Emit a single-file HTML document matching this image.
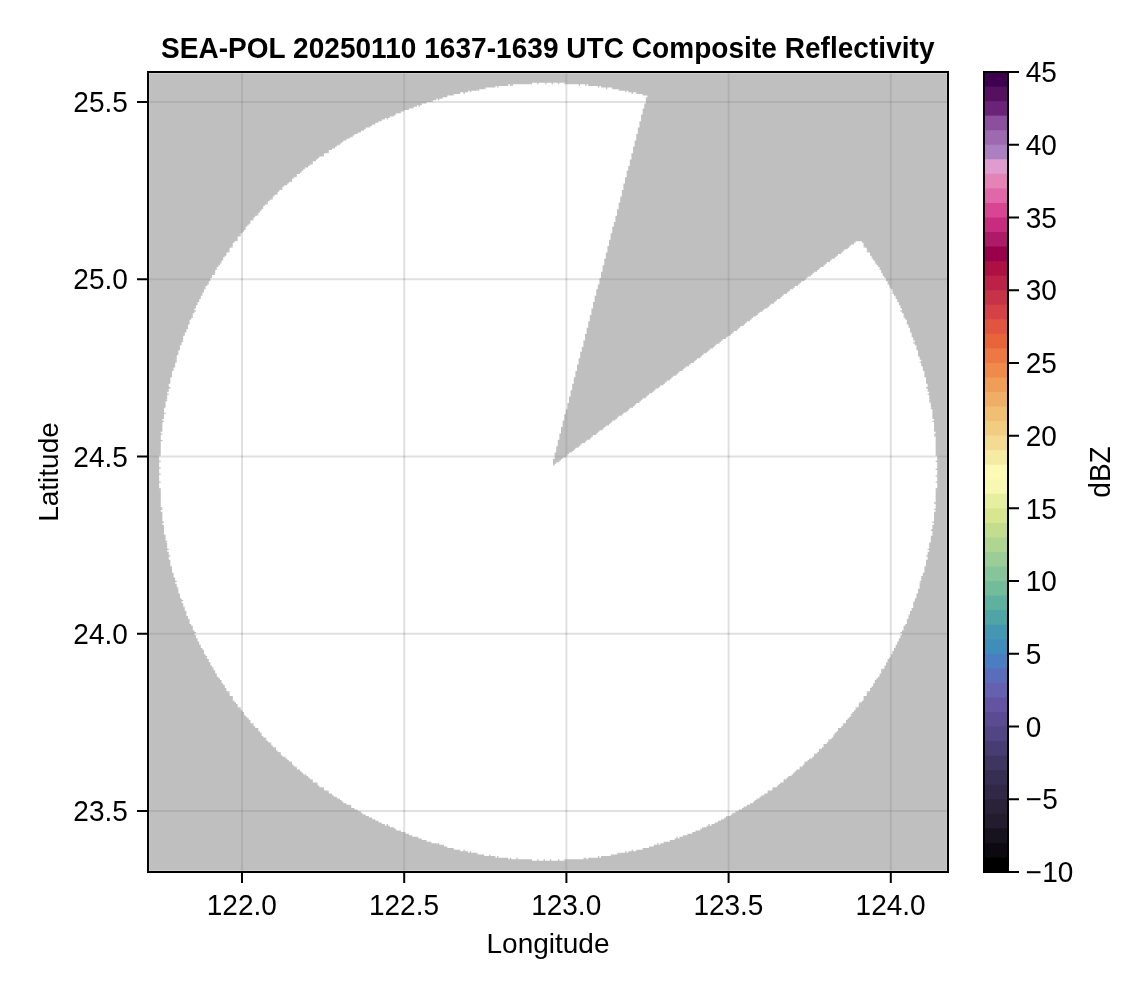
<!DOCTYPE html>
<html lang="en"><head><meta charset="utf-8"><title>SEA-POL Composite Reflectivity</title>
<style>html,body{margin:0;padding:0;background:#fff}body{width:1146px;height:990px;overflow:hidden}svg{display:block}text{font-family:"Liberation Sans",sans-serif;font-size:28px;fill:#000}.b{font-weight:bold;letter-spacing:.05px}</style></head><body>
<svg width="1146" height="990" viewBox="0 0 1146 990">
<rect width="1146" height="990" fill="#fff"/>
<path d="M242 72V872M404.2 72V872M566.4 72V872M728.6 72V872M890.8 72V872" stroke="#000" stroke-opacity="0.12" stroke-width="2" fill="none"/>
<path d="M148 102H948M148 279.25H948M148 456.5H948M148 633.75H948M148 811H948" stroke="#000" stroke-opacity="0.12" stroke-width="2" fill="none"/>
<path fill="#808080" fill-opacity="0.5" fill-rule="evenodd" d="M149.15 73.15H946.85V870.85H149.15ZM530.586 82.761h35.222v1.601h-35.222zM508.172 84.362h80.05v1.601h-80.05zM495.364 85.963h105.666v1.601h-105.666zM484.157 87.564h128.08v1.601h-128.08zM476.152 89.165h144.09v1.601h-144.09zM468.147 90.766h160.1v1.601h-160.1zM460.142 92.367h176.11v1.601h-176.11zM453.738 93.968h188.918v1.601h-188.918zM447.334 95.569h200.125v1.601h-200.125zM442.531 97.17h203.327v1.601h-203.327zM436.127 98.771h209.731v1.601h-209.731zM431.324 100.372h214.534v1.601h-214.534zM426.521 101.973h219.337v1.601h-219.337zM421.718 103.574h222.539v1.601h-222.539zM416.915 105.175h227.342v1.601h-227.342zM412.112 106.776h232.145v1.601h-232.145zM408.91 108.377h233.746v1.601h-233.746zM404.107 109.978h238.549v1.601h-238.549zM400.905 111.579h241.751v1.601h-241.751zM396.102 113.18h246.554v1.601h-246.554zM392.9 114.781h248.155v1.601h-248.155zM389.698 116.382h251.357v1.601h-251.357zM384.895 117.983h256.16v1.601h-256.16zM381.693 119.584h259.362v1.601h-259.362zM378.491 121.185h260.963v1.601h-260.963zM375.289 122.786h264.165v1.601h-264.165zM372.087 124.387h267.367v1.601h-267.367zM368.885 125.988h270.569v1.601h-270.569zM365.683 127.589h272.17v1.601h-272.17zM362.481 129.19h275.372v1.601h-275.372zM360.88 130.791h276.973v1.601h-276.973zM357.678 132.392h280.175v1.601h-280.175zM354.476 133.993h281.776v1.601h-281.776zM351.274 135.594h284.978v1.601h-284.978zM349.673 137.195h286.579v1.601h-286.579zM346.471 138.796h289.781v1.601h-289.781zM343.269 140.397h291.382v1.601h-291.382zM341.668 141.998h292.983v1.601h-292.983zM338.466 143.599h296.185v1.601h-296.185zM336.865 145.2h297.786v1.601h-297.786zM333.663 146.801h299.387v1.601h-299.387zM332.062 148.402h300.988v1.601h-300.988zM328.86 150.003h304.19v1.601h-304.19zM327.259 151.604h305.791v1.601h-305.791zM324.057 153.205h307.392v1.601h-307.392zM322.456 154.806h308.993v1.601h-308.993zM319.254 156.407h312.195v1.601h-312.195zM317.653 158.008h313.796v1.601h-313.796zM316.052 159.609h313.796v1.601h-313.796zM312.85 161.21h316.998v1.601h-316.998zM311.249 162.811h318.599v1.601h-318.599zM309.648 164.412h320.2v1.601h-320.2zM308.047 166.013h320.2v1.601h-320.2zM304.845 167.614h323.402v1.601h-323.402zM303.244 169.215h325.003v1.601h-325.003zM301.643 170.816h325.003v1.601h-325.003zM300.042 172.417h326.604v1.601h-326.604zM296.84 174.018h329.806v1.601h-329.806zM295.239 175.619h331.407v1.601h-331.407zM293.638 177.22h331.407v1.601h-331.407zM292.037 178.821h333.008v1.601h-333.008zM290.436 180.422h334.609v1.601h-334.609zM288.835 182.023h336.21v1.601h-336.21zM287.234 183.624h336.21v1.601h-336.21zM284.032 185.225h339.412v1.601h-339.412zM282.431 186.826h341.013v1.601h-341.013zM280.83 188.427h342.614v1.601h-342.614zM279.229 190.028h342.614v1.601h-342.614zM277.628 191.629h344.215v1.601h-344.215zM276.027 193.23h345.816v1.601h-345.816zM274.426 194.831h347.417v1.601h-347.417zM272.825 196.432h347.417v1.601h-347.417zM271.224 198.033h349.018v1.601h-349.018zM269.623 199.634h350.619v1.601h-350.619zM268.022 201.235h352.22v1.601h-352.22zM266.421 202.836h352.22v1.601h-352.22zM264.82 204.437h353.821v1.601h-353.821zM263.219 206.038h355.422v1.601h-355.422zM261.618 207.639h357.023v1.601h-357.023zM261.618 209.24h355.422v1.601h-355.422zM260.017 210.841h357.023v1.601h-357.023zM258.416 212.442h358.624v1.601h-358.624zM256.815 214.043h360.225v1.601h-360.225zM255.214 215.644h360.225v1.601h-360.225zM253.613 217.245h361.826v1.601h-361.826zM252.012 218.846h363.427v1.601h-363.427zM250.411 220.447h365.028v1.601h-365.028zM250.411 222.048h363.427v1.601h-363.427zM248.81 223.649h365.028v1.601h-365.028zM247.209 225.25h366.629v1.601h-366.629zM245.608 226.851h366.629v1.601h-366.629zM244.007 228.452h368.23v1.601h-368.23zM244.007 230.053h368.23v1.601h-368.23zM242.406 231.654h369.831v1.601h-369.831zM240.805 233.255h369.831v1.601h-369.831zM239.204 234.856h371.432v1.601h-371.432zM237.603 236.457h373.033v1.601h-373.033zM237.603 238.058h373.033v1.601h-373.033zM236.002 239.659h373.033v1.601h-373.033zM234.401 241.26h374.634v1.601h-374.634zM855.589 241.26h6.404v1.601h-6.404zM232.8 242.861h376.235v1.601h-376.235zM853.988 242.861h9.606v1.601h-9.606zM232.8 244.462h376.235v1.601h-376.235zM850.786 244.462h12.808v1.601h-12.808zM231.199 246.063h376.235v1.601h-376.235zM849.185 246.063h16.01v1.601h-16.01zM229.598 247.664h377.836v1.601h-377.836zM847.584 247.664h19.212v1.601h-19.212zM229.598 249.265h377.836v1.601h-377.836zM844.382 249.265h22.414v1.601h-22.414zM227.997 250.866h379.437v1.601h-379.437zM842.781 250.866h25.616v1.601h-25.616zM226.396 252.467h379.437v1.601h-379.437zM841.18 252.467h28.818v1.601h-28.818zM226.396 254.068h379.437v1.601h-379.437zM837.978 254.068h32.02v1.601h-32.02zM224.795 255.669h381.038v1.601h-381.038zM836.377 255.669h35.222v1.601h-35.222zM223.194 257.27h382.639v1.601h-382.639zM834.776 257.27h38.424v1.601h-38.424zM223.194 258.871h381.038v1.601h-381.038zM831.574 258.871h41.626v1.601h-41.626zM221.593 260.472h382.639v1.601h-382.639zM829.973 260.472h44.828v1.601h-44.828zM219.992 262.073h384.24v1.601h-384.24zM826.771 262.073h49.631v1.601h-49.631zM219.992 263.674h384.24v1.601h-384.24zM825.17 263.674h51.232v1.601h-51.232zM218.391 265.275h384.24v1.601h-384.24zM823.569 265.275h54.434v1.601h-54.434zM216.79 266.876h385.841v1.601h-385.841zM820.367 266.876h59.237v1.601h-59.237zM216.79 268.477h385.841v1.601h-385.841zM818.766 268.477h60.838v1.601h-60.838zM215.189 270.078h387.442v1.601h-387.442zM817.165 270.078h64.04v1.601h-64.04zM215.189 271.679h385.841v1.601h-385.841zM813.963 271.679h67.242v1.601h-67.242zM213.588 273.28h387.442v1.601h-387.442zM812.362 273.28h70.444v1.601h-70.444zM211.987 274.881h389.043v1.601h-389.043zM810.761 274.881h73.646v1.601h-73.646zM211.987 276.482h389.043v1.601h-389.043zM807.559 276.482h76.848v1.601h-76.848zM210.386 278.083h389.043v1.601h-389.043zM805.958 278.083h80.05v1.601h-80.05zM210.386 279.684h389.043v1.601h-389.043zM804.357 279.684h81.651v1.601h-81.651zM208.785 281.285h390.644v1.601h-390.644zM801.155 281.285h86.454v1.601h-86.454zM208.785 282.886h390.644v1.601h-390.644zM799.554 282.886h88.055v1.601h-88.055zM207.184 284.487h390.644v1.601h-390.644zM797.953 284.487h91.257v1.601h-91.257zM205.583 286.088h392.245v1.601h-392.245zM794.751 286.088h96.06v1.601h-96.06zM205.583 287.689h392.245v1.601h-392.245zM793.15 287.689h97.661v1.601h-97.661zM203.982 289.29h392.245v1.601h-392.245zM789.948 289.29h102.464v1.601h-102.464zM203.982 290.891h392.245v1.601h-392.245zM788.347 290.891h104.065v1.601h-104.065zM202.381 292.492h393.846v1.601h-393.846zM786.746 292.492h107.267v1.601h-107.267zM202.381 294.093h393.846v1.601h-393.846zM783.544 294.093h110.469v1.601h-110.469zM200.78 295.694h393.846v1.601h-393.846zM781.943 295.694h113.671v1.601h-113.671zM200.78 297.295h393.846v1.601h-393.846zM780.342 297.295h115.272v1.601h-115.272zM199.179 298.896h395.447v1.601h-395.447zM777.14 298.896h120.075v1.601h-120.075zM199.179 300.497h395.447v1.601h-395.447zM775.539 300.497h121.676v1.601h-121.676zM197.578 302.098h395.447v1.601h-395.447zM773.938 302.098h124.878v1.601h-124.878zM197.578 303.699h395.447v1.601h-395.447zM770.736 303.699h128.08v1.601h-128.08zM195.977 305.3h397.048v1.601h-397.048zM769.135 305.3h131.282v1.601h-131.282zM195.977 306.901h397.048v1.601h-397.048zM767.534 306.901h132.883v1.601h-132.883zM194.376 308.502h397.048v1.601h-397.048zM764.332 308.502h137.686v1.601h-137.686zM194.376 310.103h397.048v1.601h-397.048zM762.731 310.103h139.287v1.601h-139.287zM194.376 311.704h397.048v1.601h-397.048zM759.529 311.704h142.489v1.601h-142.489zM192.775 313.305h398.649v1.601h-398.649zM757.928 313.305h145.691v1.601h-145.691zM192.775 314.906h397.048v1.601h-397.048zM756.327 314.906h147.292v1.601h-147.292zM191.174 316.507h398.649v1.601h-398.649zM753.125 316.507h152.095v1.601h-152.095zM191.174 318.108h398.649v1.601h-398.649zM751.524 318.108h153.696v1.601h-153.696zM189.573 319.709h400.25v1.601h-400.25zM749.923 319.709h156.898v1.601h-156.898zM189.573 321.31h398.649v1.601h-398.649zM746.721 321.31h160.1v1.601h-160.1zM189.573 322.911h398.649v1.601h-398.649zM745.12 322.911h161.701v1.601h-161.701zM187.972 324.512h400.25v1.601h-400.25zM743.519 324.512h164.903v1.601h-164.903zM187.972 326.113h400.25v1.601h-400.25zM740.317 326.113h168.105v1.601h-168.105zM186.371 327.714h400.25v1.601h-400.25zM738.716 327.714h171.307v1.601h-171.307zM186.371 329.315h400.25v1.601h-400.25zM737.115 329.315h172.908v1.601h-172.908zM186.371 330.916h400.25v1.601h-400.25zM733.913 330.916h176.11v1.601h-176.11zM184.77 332.517h401.851v1.601h-401.851zM732.312 332.517h179.312v1.601h-179.312zM184.77 334.118h400.25v1.601h-400.25zM730.711 334.118h180.913v1.601h-180.913zM183.169 335.719h401.851v1.601h-401.851zM727.509 335.719h185.716v1.601h-185.716zM183.169 337.32h401.851v1.601h-401.851zM725.908 337.32h187.317v1.601h-187.317zM183.169 338.921h401.851v1.601h-401.851zM722.706 338.921h190.519v1.601h-190.519zM181.568 340.522h401.851v1.601h-401.851zM721.105 340.522h193.721v1.601h-193.721zM181.568 342.123h401.851v1.601h-401.851zM719.504 342.123h195.322v1.601h-195.322zM181.568 343.724h401.851v1.601h-401.851zM716.302 343.724h198.524v1.601h-198.524zM179.967 345.325h403.452v1.601h-403.452zM714.701 345.325h201.726v1.601h-201.726zM179.967 346.926h401.851v1.601h-401.851zM713.1 346.926h203.327v1.601h-203.327zM179.967 348.527h401.851v1.601h-401.851zM709.898 348.527h206.529v1.601h-206.529zM178.366 350.128h403.452v1.601h-403.452zM708.297 350.128h209.731v1.601h-209.731zM178.366 351.729h401.851v1.601h-401.851zM706.696 351.729h211.332v1.601h-211.332zM178.366 353.33h401.851v1.601h-401.851zM703.494 353.33h214.534v1.601h-214.534zM176.765 354.931h403.452v1.601h-403.452zM701.893 354.931h217.736v1.601h-217.736zM176.765 356.532h403.452v1.601h-403.452zM700.292 356.532h219.337v1.601h-219.337zM176.765 358.133h401.851v1.601h-401.851zM697.09 358.133h222.539v1.601h-222.539zM175.164 359.734h403.452v1.601h-403.452zM695.489 359.734h225.741v1.601h-225.741zM175.164 361.335h403.452v1.601h-403.452zM693.888 361.335h227.342v1.601h-227.342zM175.164 362.936h403.452v1.601h-403.452zM690.686 362.936h230.544v1.601h-230.544zM175.164 364.537h401.851v1.601h-401.851zM689.085 364.537h232.145v1.601h-232.145zM173.563 366.138h403.452v1.601h-403.452zM685.883 366.138h236.948v1.601h-236.948zM173.563 367.739h403.452v1.601h-403.452zM684.282 367.739h238.549v1.601h-238.549zM173.563 369.34h403.452v1.601h-403.452zM682.681 369.34h240.15v1.601h-240.15zM171.962 370.941h403.452v1.601h-403.452zM679.479 370.941h244.953v1.601h-244.953zM171.962 372.542h403.452v1.601h-403.452zM677.878 372.542h246.554v1.601h-246.554zM171.962 374.143h403.452v1.601h-403.452zM676.277 374.143h248.155v1.601h-248.155zM171.962 375.744h403.452v1.601h-403.452zM673.075 375.744h251.357v1.601h-251.357zM170.361 377.345h403.452v1.601h-403.452zM671.474 377.345h254.559v1.601h-254.559zM170.361 378.946h403.452v1.601h-403.452zM669.873 378.946h256.16v1.601h-256.16zM170.361 380.547h403.452v1.601h-403.452zM666.671 380.547h259.362v1.601h-259.362zM170.361 382.148h403.452v1.601h-403.452zM665.07 382.148h260.963v1.601h-260.963zM168.76 383.749h403.452v1.601h-403.452zM663.469 383.749h264.165v1.601h-264.165zM168.76 385.35h403.452v1.601h-403.452zM660.267 385.35h267.367v1.601h-267.367zM168.76 386.951h403.452v1.601h-403.452zM658.666 386.951h268.968v1.601h-268.968zM168.76 388.552h403.452v1.601h-403.452zM655.464 388.552h272.17v1.601h-272.17zM168.76 390.153h401.851v1.601h-401.851zM653.863 390.153h273.771v1.601h-273.771zM167.159 391.754h403.452v1.601h-403.452zM652.262 391.754h276.973v1.601h-276.973zM167.159 393.355h403.452v1.601h-403.452zM649.06 393.355h280.175v1.601h-280.175zM167.159 394.956h403.452v1.601h-403.452zM647.459 394.956h281.776v1.601h-281.776zM167.159 396.557h401.851v1.601h-401.851zM645.858 396.557h283.377v1.601h-283.377zM167.159 398.158h401.851v1.601h-401.851zM642.656 398.158h286.579v1.601h-286.579zM165.558 399.759h403.452v1.601h-403.452zM641.055 399.759h289.781v1.601h-289.781zM165.558 401.36h403.452v1.601h-403.452zM639.454 401.36h291.382v1.601h-291.382zM165.558 402.961h401.851v1.601h-401.851zM636.252 402.961h294.584v1.601h-294.584zM165.558 404.562h401.851v1.601h-401.851zM634.651 404.562h296.185v1.601h-296.185zM165.558 406.163h401.851v1.601h-401.851zM633.05 406.163h297.786v1.601h-297.786zM163.957 407.764h403.452v1.601h-403.452zM629.848 407.764h302.589v1.601h-302.589zM163.957 409.365h401.851v1.601h-401.851zM628.247 409.365h304.19v1.601h-304.19zM163.957 410.966h401.851v1.601h-401.851zM626.646 410.966h305.791v1.601h-305.791zM163.957 412.567h401.851v1.601h-401.851zM623.444 412.567h308.993v1.601h-308.993zM163.957 414.168h400.25v1.601h-400.25zM621.843 414.168h310.594v1.601h-310.594zM163.957 415.769h400.25v1.601h-400.25zM618.641 415.769h313.796v1.601h-313.796zM163.957 417.37h400.25v1.601h-400.25zM617.04 417.37h315.397v1.601h-315.397zM162.356 418.971h401.851v1.601h-401.851zM615.439 418.971h318.599v1.601h-318.599zM162.356 420.572h400.25v1.601h-400.25zM612.237 420.572h321.801v1.601h-321.801zM162.356 422.173h400.25v1.601h-400.25zM610.636 422.173h323.402v1.601h-323.402zM162.356 423.774h400.25v1.601h-400.25zM609.035 423.774h325.003v1.601h-325.003zM162.356 425.375h400.25v1.601h-400.25zM605.833 425.375h328.205v1.601h-328.205zM162.356 426.976h398.649v1.601h-398.649zM604.232 426.976h329.806v1.601h-329.806zM162.356 428.577h398.649v1.601h-398.649zM602.631 428.577h331.407v1.601h-331.407zM162.356 430.178h398.649v1.601h-398.649zM599.429 430.178h334.609v1.601h-334.609zM160.755 431.779h400.25v1.601h-400.25zM597.828 431.779h337.811v1.601h-337.811zM160.755 433.38h398.649v1.601h-398.649zM596.227 433.38h339.412v1.601h-339.412zM160.755 434.981h398.649v1.601h-398.649zM593.025 434.981h342.614v1.601h-342.614zM160.755 436.582h398.649v1.601h-398.649zM591.424 436.582h344.215v1.601h-344.215zM160.755 438.183h398.649v1.601h-398.649zM589.823 438.183h345.816v1.601h-345.816zM160.755 439.784h397.048v1.601h-397.048zM586.621 439.784h349.018v1.601h-349.018zM160.755 441.385h397.048v1.601h-397.048zM585.02 441.385h350.619v1.601h-350.619zM160.755 442.986h397.048v1.601h-397.048zM581.818 442.986h353.821v1.601h-353.821zM160.755 444.587h397.048v1.601h-397.048zM580.217 444.587h355.422v1.601h-355.422zM160.755 446.188h395.447v1.601h-395.447zM578.616 446.188h357.023v1.601h-357.023zM160.755 447.789h395.447v1.601h-395.447zM575.414 447.789h360.225v1.601h-360.225zM160.755 449.39h395.447v1.601h-395.447zM573.813 449.39h361.826v1.601h-361.826zM160.755 450.991h395.447v1.601h-395.447zM572.212 450.991h363.427v1.601h-363.427zM160.755 452.592h393.846v1.601h-393.846zM569.01 452.592h366.629v1.601h-366.629zM159.154 454.193h395.447v1.601h-395.447zM567.409 454.193h369.831v1.601h-369.831zM159.154 455.794h395.447v1.601h-395.447zM565.808 455.794h371.432v1.601h-371.432zM159.154 457.395h395.447v1.601h-395.447zM562.606 457.395h374.634v1.601h-374.634zM159.154 458.996h393.846v1.601h-393.846zM561.005 458.996h376.235v1.601h-376.235zM159.154 460.597h393.846v1.601h-393.846zM559.404 460.597h377.836v1.601h-377.836zM159.154 462.198h393.846v1.601h-393.846zM556.202 462.198h381.038v1.601h-381.038zM159.154 463.799h393.846v1.601h-393.846zM554.601 463.799h382.639v1.601h-382.639zM159.154 465.4h778.086v1.601h-778.086zM159.154 467.001h778.086v1.601h-778.086zM159.154 468.602h778.086v1.601h-778.086zM159.154 470.203h778.086v1.601h-778.086zM159.154 471.804h778.086v1.601h-778.086zM159.154 473.405h778.086v1.601h-778.086zM159.154 475.006h778.086v1.601h-778.086zM159.154 476.607h778.086v1.601h-778.086zM159.154 478.208h778.086v1.601h-778.086zM159.154 479.809h778.086v1.601h-778.086zM159.154 481.41h778.086v1.601h-778.086zM159.154 483.011h778.086v1.601h-778.086zM159.154 484.612h778.086v1.601h-778.086zM159.154 486.213h778.086v1.601h-778.086zM159.154 487.814h778.086v1.601h-778.086zM160.755 489.415h774.884v1.601h-774.884zM160.755 491.016h774.884v1.601h-774.884zM160.755 492.617h774.884v1.601h-774.884zM160.755 494.218h774.884v1.601h-774.884zM160.755 495.819h774.884v1.601h-774.884zM160.755 497.42h774.884v1.601h-774.884zM160.755 499.021h774.884v1.601h-774.884zM160.755 500.622h774.884v1.601h-774.884zM160.755 502.223h774.884v1.601h-774.884zM160.755 503.824h774.884v1.601h-774.884zM160.755 505.425h774.884v1.601h-774.884zM160.755 507.026h774.884v1.601h-774.884zM160.755 508.627h774.884v1.601h-774.884zM160.755 510.228h774.884v1.601h-774.884zM162.356 511.829h771.682v1.601h-771.682zM162.356 513.43h771.682v1.601h-771.682zM162.356 515.031h771.682v1.601h-771.682zM162.356 516.632h771.682v1.601h-771.682zM162.356 518.233h771.682v1.601h-771.682zM162.356 519.834h771.682v1.601h-771.682zM162.356 521.435h771.682v1.601h-771.682zM162.356 523.036h771.682v1.601h-771.682zM163.957 524.637h768.48v1.601h-768.48zM163.957 526.238h768.48v1.601h-768.48zM163.957 527.839h768.48v1.601h-768.48zM163.957 529.44h768.48v1.601h-768.48zM163.957 531.041h768.48v1.601h-768.48zM163.957 532.642h768.48v1.601h-768.48zM163.957 534.243h768.48v1.601h-768.48zM165.558 535.844h765.278v1.601h-765.278zM165.558 537.445h765.278v1.601h-765.278zM165.558 539.046h765.278v1.601h-765.278zM165.558 540.647h765.278v1.601h-765.278zM165.558 542.248h765.278v1.601h-765.278zM167.159 543.849h762.076v1.601h-762.076zM167.159 545.45h762.076v1.601h-762.076zM167.159 547.051h762.076v1.601h-762.076zM167.159 548.652h762.076v1.601h-762.076zM167.159 550.253h762.076v1.601h-762.076zM168.76 551.854h758.874v1.601h-758.874zM168.76 553.455h758.874v1.601h-758.874zM168.76 555.056h758.874v1.601h-758.874zM168.76 556.657h758.874v1.601h-758.874zM168.76 558.258h758.874v1.601h-758.874zM170.361 559.859h755.672v1.601h-755.672zM170.361 561.46h755.672v1.601h-755.672zM170.361 563.061h755.672v1.601h-755.672zM170.361 564.662h755.672v1.601h-755.672zM171.962 566.263h752.47v1.601h-752.47zM171.962 567.864h752.47v1.601h-752.47zM171.962 569.465h752.47v1.601h-752.47zM171.962 571.066h752.47v1.601h-752.47zM173.563 572.667h749.268v1.601h-749.268zM173.563 574.268h749.268v1.601h-749.268zM173.563 575.869h749.268v1.601h-749.268zM175.164 577.47h746.066v1.601h-746.066zM175.164 579.071h746.066v1.601h-746.066zM175.164 580.672h746.066v1.601h-746.066zM175.164 582.273h746.066v1.601h-746.066zM176.765 583.874h742.864v1.601h-742.864zM176.765 585.475h742.864v1.601h-742.864zM176.765 587.076h742.864v1.601h-742.864zM178.366 588.677h739.662v1.601h-739.662zM178.366 590.278h739.662v1.601h-739.662zM178.366 591.879h739.662v1.601h-739.662zM179.967 593.48h736.46v1.601h-736.46zM179.967 595.081h736.46v1.601h-736.46zM179.967 596.682h736.46v1.601h-736.46zM181.568 598.283h733.258v1.601h-733.258zM181.568 599.884h733.258v1.601h-733.258zM181.568 601.485h733.258v1.601h-733.258zM183.169 603.086h730.056v1.601h-730.056zM183.169 604.687h730.056v1.601h-730.056zM183.169 606.288h730.056v1.601h-730.056zM184.77 607.889h726.854v1.601h-726.854zM184.77 609.49h726.854v1.601h-726.854zM186.371 611.091h723.652v1.601h-723.652zM186.371 612.692h723.652v1.601h-723.652zM186.371 614.293h723.652v1.601h-723.652zM187.972 615.894h720.45v1.601h-720.45zM187.972 617.495h720.45v1.601h-720.45zM189.573 619.096h717.248v1.601h-717.248zM189.573 620.697h717.248v1.601h-717.248zM189.573 622.298h717.248v1.601h-717.248zM191.174 623.899h714.046v1.601h-714.046zM191.174 625.5h714.046v1.601h-714.046zM192.775 627.101h710.844v1.601h-710.844zM192.775 628.702h710.844v1.601h-710.844zM194.376 630.303h707.642v1.601h-707.642zM194.376 631.904h707.642v1.601h-707.642zM194.376 633.505h707.642v1.601h-707.642zM195.977 635.106h704.44v1.601h-704.44zM195.977 636.707h704.44v1.601h-704.44zM197.578 638.308h701.238v1.601h-701.238zM197.578 639.909h701.238v1.601h-701.238zM199.179 641.51h698.036v1.601h-698.036zM199.179 643.111h698.036v1.601h-698.036zM200.78 644.712h694.834v1.601h-694.834zM200.78 646.313h694.834v1.601h-694.834zM202.381 647.914h691.632v1.601h-691.632zM202.381 649.515h691.632v1.601h-691.632zM203.982 651.116h688.43v1.601h-688.43zM203.982 652.717h688.43v1.601h-688.43zM205.583 654.318h685.228v1.601h-685.228zM205.583 655.919h685.228v1.601h-685.228zM207.184 657.52h682.026v1.601h-682.026zM208.785 659.121h678.824v1.601h-678.824zM208.785 660.722h678.824v1.601h-678.824zM210.386 662.323h675.622v1.601h-675.622zM210.386 663.924h675.622v1.601h-675.622zM211.987 665.525h672.42v1.601h-672.42zM211.987 667.126h672.42v1.601h-672.42zM213.588 668.727h669.218v1.601h-669.218zM215.189 670.328h666.016v1.601h-666.016zM215.189 671.929h666.016v1.601h-666.016zM216.79 673.53h662.814v1.601h-662.814zM216.79 675.131h662.814v1.601h-662.814zM218.391 676.732h659.612v1.601h-659.612zM219.992 678.333h656.41v1.601h-656.41zM219.992 679.934h656.41v1.601h-656.41zM221.593 681.535h653.208v1.601h-653.208zM223.194 683.136h650.006v1.601h-650.006zM223.194 684.737h650.006v1.601h-650.006zM224.795 686.338h646.804v1.601h-646.804zM226.396 687.939h643.602v1.601h-643.602zM226.396 689.54h643.602v1.601h-643.602zM227.997 691.141h640.4v1.601h-640.4zM229.598 692.742h637.198v1.601h-637.198zM229.598 694.343h637.198v1.601h-637.198zM231.199 695.944h633.996v1.601h-633.996zM232.8 697.545h630.794v1.601h-630.794zM232.8 699.146h630.794v1.601h-630.794zM234.401 700.747h627.592v1.601h-627.592zM236.002 702.348h624.39v1.601h-624.39zM237.603 703.949h621.188v1.601h-621.188zM237.603 705.55h621.188v1.601h-621.188zM239.204 707.151h617.986v1.601h-617.986zM240.805 708.752h614.784v1.601h-614.784zM242.406 710.353h611.582v1.601h-611.582zM244.007 711.954h608.38v1.601h-608.38zM244.007 713.555h608.38v1.601h-608.38zM245.608 715.156h605.178v1.601h-605.178zM247.209 716.757h601.976v1.601h-601.976zM248.81 718.358h598.774v1.601h-598.774zM250.411 719.959h595.572v1.601h-595.572zM250.411 721.56h595.572v1.601h-595.572zM252.012 723.161h592.37v1.601h-592.37zM253.613 724.762h589.168v1.601h-589.168zM255.214 726.363h585.966v1.601h-585.966zM256.815 727.964h582.764v1.601h-582.764zM258.416 729.565h579.562v1.601h-579.562zM260.017 731.166h576.36v1.601h-576.36zM261.618 732.767h573.158v1.601h-573.158zM261.618 734.368h573.158v1.601h-573.158zM263.219 735.969h569.956v1.601h-569.956zM264.82 737.57h566.754v1.601h-566.754zM266.421 739.171h563.552v1.601h-563.552zM268.022 740.772h560.35v1.601h-560.35zM269.623 742.373h557.148v1.601h-557.148zM271.224 743.974h553.946v1.601h-553.946zM272.825 745.575h550.744v1.601h-550.744zM274.426 747.176h547.542v1.601h-547.542zM276.027 748.777h544.34v1.601h-544.34zM277.628 750.378h541.138v1.601h-541.138zM279.229 751.979h537.936v1.601h-537.936zM280.83 753.58h534.734v1.601h-534.734zM282.431 755.181h531.532v1.601h-531.532zM284.032 756.782h528.33v1.601h-528.33zM287.234 758.383h521.926v1.601h-521.926zM288.835 759.984h518.724v1.601h-518.724zM290.436 761.585h515.522v1.601h-515.522zM292.037 763.186h512.32v1.601h-512.32zM293.638 764.787h509.118v1.601h-509.118zM295.239 766.388h505.916v1.601h-505.916zM296.84 767.989h502.714v1.601h-502.714zM300.042 769.59h496.31v1.601h-496.31zM301.643 771.191h493.108v1.601h-493.108zM303.244 772.792h489.906v1.601h-489.906zM304.845 774.393h486.704v1.601h-486.704zM308.047 775.994h480.3v1.601h-480.3zM309.648 777.595h477.098v1.601h-477.098zM311.249 779.196h473.896v1.601h-473.896zM312.85 780.797h470.694v1.601h-470.694zM316.052 782.398h464.29v1.601h-464.29zM317.653 783.999h461.088v1.601h-461.088zM319.254 785.6h457.886v1.601h-457.886zM322.456 787.201h451.482v1.601h-451.482zM324.057 788.802h448.28v1.601h-448.28zM327.259 790.403h441.876v1.601h-441.876zM328.86 792.004h438.674v1.601h-438.674zM332.062 793.605h432.27v1.601h-432.27zM333.663 795.206h429.068v1.601h-429.068zM336.865 796.807h422.664v1.601h-422.664zM338.466 798.408h419.462v1.601h-419.462zM341.668 800.009h413.058v1.601h-413.058zM343.269 801.61h409.856v1.601h-409.856zM346.471 803.211h403.452v1.601h-403.452zM349.673 804.812h397.048v1.601h-397.048zM351.274 806.413h393.846v1.601h-393.846zM354.476 808.014h387.442v1.601h-387.442zM357.678 809.615h381.038v1.601h-381.038zM360.88 811.216h374.634v1.601h-374.634zM362.481 812.817h371.432v1.601h-371.432zM365.683 814.418h365.028v1.601h-365.028zM368.885 816.019h358.624v1.601h-358.624zM372.087 817.62h352.22v1.601h-352.22zM375.289 819.221h345.816v1.601h-345.816zM378.491 820.822h339.412v1.601h-339.412zM381.693 822.423h333.008v1.601h-333.008zM384.895 824.024h326.604v1.601h-326.604zM389.698 825.625h316.998v1.601h-316.998zM392.9 827.226h310.594v1.601h-310.594zM396.102 828.827h304.19v1.601h-304.19zM400.905 830.428h294.584v1.601h-294.584zM404.107 832.029h288.18v1.601h-288.18zM408.91 833.63h278.574v1.601h-278.574zM412.112 835.231h272.17v1.601h-272.17zM416.915 836.832h262.564v1.601h-262.564zM421.718 838.433h252.958v1.601h-252.958zM426.521 840.034h243.352v1.601h-243.352zM431.324 841.635h233.746v1.601h-233.746zM436.127 843.236h224.14v1.601h-224.14zM442.531 844.837h211.332v1.601h-211.332zM447.334 846.438h201.726v1.601h-201.726zM453.738 848.039h188.918v1.601h-188.918zM460.142 849.64h176.11v1.601h-176.11zM468.147 851.241h160.1v1.601h-160.1zM476.152 852.842h144.09v1.601h-144.09zM484.157 854.443h128.08v1.601h-128.08zM495.364 856.044h105.666v1.601h-105.666zM508.172 857.645h80.05v1.601h-80.05zM530.586 859.246h35.222v1.601h-35.222zM530.736 82.761h1.3v1.601h-1.3zM537.14 82.761h1.3v1.601h-1.3zM545.145 82.761h1.3v1.601h-1.3zM551.549 82.761h1.3v1.601h-1.3zM557.953 82.761h1.3v1.601h-1.3zM564.357 82.761h1.3v1.601h-1.3zM509.924 84.362h1.3v1.601h-1.3zM511.525 84.362h1.3v1.601h-1.3zM578.766 84.362h1.3v1.601h-1.3zM585.17 84.362h1.3v1.601h-1.3zM497.116 85.963h1.3v1.601h-1.3zM597.978 85.963h1.3v1.601h-1.3zM484.308 87.564h1.3v1.601h-1.3zM605.983 87.564h1.3v1.601h-1.3zM476.303 89.165h1.3v1.601h-1.3zM477.904 89.165h1.3v1.601h-1.3zM618.791 89.165h1.3v1.601h-1.3zM469.899 90.766h1.3v1.601h-1.3zM625.195 90.766h1.3v1.601h-1.3zM463.495 92.367h1.3v1.601h-1.3zM631.599 92.367h1.3v1.601h-1.3zM437.879 98.771h1.3v1.601h-1.3zM431.475 100.372h1.3v1.601h-1.3zM418.666 105.175h1.3v1.601h-1.3zM412.262 106.776h1.3v1.601h-1.3zM393.05 114.781h1.3v1.601h-1.3zM386.647 117.983h1.3v1.601h-1.3zM369.036 125.988h1.3v1.601h-1.3zM362.632 129.19h1.3v1.601h-1.3zM351.425 135.594h1.3v1.601h-1.3zM338.617 143.599h1.3v1.601h-1.3zM333.814 146.801h1.3v1.601h-1.3zM327.41 151.604h1.3v1.601h-1.3zM322.607 154.806h1.3v1.601h-1.3zM311.4 162.811h1.3v1.601h-1.3zM295.389 175.619h1.3v1.601h-1.3zM290.587 180.422h1.3v1.601h-1.3zM280.981 188.427h1.3v1.601h-1.3zM276.178 193.23h1.3v1.601h-1.3zM271.224 198.183h1.601v1.3h-1.601zM266.421 202.986h1.601v1.3h-1.601zM261.618 207.789h1.601v1.3h-1.601zM256.815 214.193h1.601v1.3h-1.601zM252.012 218.996h1.601v1.3h-1.601zM244.007 228.602h1.601v1.3h-1.601zM239.204 235.006h1.601v1.3h-1.601zM236.002 239.809h1.601v1.3h-1.601zM231.199 246.213h1.601v1.3h-1.601zM863.594 246.213h1.601v1.3h-1.601zM227.997 251.016h1.601v1.3h-1.601zM866.796 251.016h1.601v1.3h-1.601zM871.599 257.421h1.601v1.3h-1.601zM219.992 262.224h1.601v1.3h-1.601zM874.801 262.224h1.601v1.3h-1.601zM213.588 273.43h1.601v1.3h-1.601zM882.806 275.031h1.601v1.3h-1.601zM889.21 286.238h1.601v1.3h-1.601zM892.412 292.642h1.601v1.3h-1.601zM194.376 310.253h1.601v1.3h-1.601zM900.417 310.253h1.601v1.3h-1.601zM191.174 316.657h1.601v1.3h-1.601zM903.619 316.657h1.601v1.3h-1.601zM186.371 327.864h1.601v1.3h-1.601zM911.624 335.869h1.601v1.3h-1.601zM181.568 340.673h1.601v1.3h-1.601zM913.225 342.274h1.601v1.3h-1.601zM918.028 355.082h1.601v1.3h-1.601zM175.164 359.885h1.601v1.3h-1.601zM175.164 361.486h1.601v1.3h-1.601zM919.629 361.486h1.601v1.3h-1.601zM173.563 366.288h1.601v1.3h-1.601zM168.76 387.101h1.601v1.3h-1.601zM926.033 387.101h1.601v1.3h-1.601zM167.159 393.505h1.601v1.3h-1.601zM927.634 393.505h1.601v1.3h-1.601zM165.558 399.909h1.601v1.3h-1.601zM929.235 399.909h1.601v1.3h-1.601zM929.235 401.511h1.601v1.3h-1.601zM930.836 407.915h1.601v1.3h-1.601zM163.957 412.718h1.601v1.3h-1.601zM162.356 420.723h1.601v1.3h-1.601zM932.437 420.723h1.601v1.3h-1.601zM160.755 433.531h1.601v1.3h-1.601zM934.038 433.531h1.601v1.3h-1.601zM934.038 435.132h1.601v1.3h-1.601zM160.755 439.935h1.601v1.3h-1.601zM159.154 454.344h1.601v1.3h-1.601zM935.639 454.344h1.601v1.3h-1.601zM159.154 460.748h1.601v1.3h-1.601zM935.639 460.748h1.601v1.3h-1.601zM159.154 467.151h1.601v1.3h-1.601zM935.639 468.752h1.601v1.3h-1.601zM159.154 473.555h1.601v1.3h-1.601zM935.639 475.156h1.601v1.3h-1.601zM159.154 481.56h1.601v1.3h-1.601zM935.639 481.56h1.601v1.3h-1.601zM159.154 487.964h1.601v1.3h-1.601zM935.639 487.964h1.601v1.3h-1.601zM934.038 502.373h1.601v1.3h-1.601zM160.755 507.176h1.601v1.3h-1.601zM160.755 508.777h1.601v1.3h-1.601zM934.038 508.777h1.601v1.3h-1.601zM162.356 521.585h1.601v1.3h-1.601zM932.437 521.585h1.601v1.3h-1.601zM930.836 529.59h1.601v1.3h-1.601zM163.957 534.393h1.601v1.3h-1.601zM165.558 540.797h1.601v1.3h-1.601zM165.558 542.398h1.601v1.3h-1.601zM929.235 542.398h1.601v1.3h-1.601zM167.159 548.802h1.601v1.3h-1.601zM927.634 548.802h1.601v1.3h-1.601zM168.76 555.207h1.601v1.3h-1.601zM926.033 555.207h1.601v1.3h-1.601zM921.23 576.019h1.601v1.3h-1.601zM175.164 580.822h1.601v1.3h-1.601zM919.629 580.822h1.601v1.3h-1.601zM919.629 582.423h1.601v1.3h-1.601zM176.765 587.226h1.601v1.3h-1.601zM181.568 600.034h1.601v1.3h-1.601zM913.225 601.635h1.601v1.3h-1.601zM183.169 606.438h1.601v1.3h-1.601zM908.422 614.443h1.601v1.3h-1.601zM191.174 625.65h1.601v1.3h-1.601zM903.619 625.65h1.601v1.3h-1.601zM194.376 632.054h1.601v1.3h-1.601zM900.417 632.054h1.601v1.3h-1.601zM202.381 649.665h1.601v1.3h-1.601zM205.583 656.069h1.601v1.3h-1.601zM211.987 667.276h1.601v1.3h-1.601zM881.205 668.877h1.601v1.3h-1.601zM219.992 680.084h1.601v1.3h-1.601zM874.801 680.084h1.601v1.3h-1.601zM223.194 684.887h1.601v1.3h-1.601zM227.997 691.291h1.601v1.3h-1.601zM866.796 691.291h1.601v1.3h-1.601zM231.199 696.094h1.601v1.3h-1.601zM863.594 696.094h1.601v1.3h-1.601zM858.791 702.498h1.601v1.3h-1.601zM239.204 707.301h1.601v1.3h-1.601zM855.589 707.301h1.601v1.3h-1.601zM850.786 713.705h1.601v1.3h-1.601zM252.012 723.312h1.601v1.3h-1.601zM842.781 723.312h1.601v1.3h-1.601zM256.815 728.114h1.601v1.3h-1.601zM837.978 728.114h1.601v1.3h-1.601zM833.175 734.518h1.601v1.3h-1.601zM264.82 737.72h1.601v1.3h-1.601zM828.372 739.322h1.601v1.3h-1.601zM269.623 742.524h1.601v1.3h-1.601zM823.569 744.124h1.601v1.3h-1.601zM274.577 747.176h1.3v1.601h-1.3zM818.917 748.777h1.3v1.601h-1.3zM279.38 751.979h1.3v1.601h-1.3zM814.113 753.58h1.3v1.601h-1.3zM284.183 756.782h1.3v1.601h-1.3zM290.587 761.585h1.3v1.601h-1.3zM804.507 761.585h1.3v1.601h-1.3zM295.389 766.388h1.3v1.601h-1.3zM799.704 766.388h1.3v1.601h-1.3zM304.996 774.393h1.3v1.601h-1.3zM311.4 779.196h1.3v1.601h-1.3zM783.694 779.196h1.3v1.601h-1.3zM316.203 782.398h1.3v1.601h-1.3zM322.607 787.201h1.3v1.601h-1.3zM772.487 787.201h1.3v1.601h-1.3zM327.41 790.403h1.3v1.601h-1.3zM767.684 790.403h1.3v1.601h-1.3zM761.28 795.206h1.3v1.601h-1.3zM338.617 798.408h1.3v1.601h-1.3zM756.477 798.408h1.3v1.601h-1.3zM349.824 804.812h1.3v1.601h-1.3zM743.669 806.413h1.3v1.601h-1.3zM732.462 812.817h1.3v1.601h-1.3zM726.058 816.019h1.3v1.601h-1.3zM386.647 824.024h1.3v1.601h-1.3zM708.447 824.024h1.3v1.601h-1.3zM393.05 827.226h1.3v1.601h-1.3zM702.043 827.226h1.3v1.601h-1.3zM404.257 832.029h1.3v1.601h-1.3zM682.832 835.231h1.3v1.601h-1.3zM417.065 836.832h1.3v1.601h-1.3zM676.428 836.832h1.3v1.601h-1.3zM663.62 841.635h1.3v1.601h-1.3zM436.278 843.236h1.3v1.601h-1.3zM437.879 843.236h1.3v1.601h-1.3zM657.216 843.236h1.3v1.601h-1.3zM442.682 844.837h1.3v1.601h-1.3zM463.495 849.64h1.3v1.601h-1.3zM631.599 849.64h1.3v1.601h-1.3zM469.899 851.241h1.3v1.601h-1.3zM625.195 851.241h1.3v1.601h-1.3zM476.303 852.842h1.3v1.601h-1.3zM617.19 852.842h1.3v1.601h-1.3zM618.791 852.842h1.3v1.601h-1.3zM489.111 854.443h1.3v1.601h-1.3zM610.786 854.443h1.3v1.601h-1.3zM497.116 856.044h1.3v1.601h-1.3zM597.978 856.044h1.3v1.601h-1.3zM509.924 857.645h1.3v1.601h-1.3zM516.327 857.645h1.3v1.601h-1.3zM583.569 857.645h1.3v1.601h-1.3zM585.17 857.645h1.3v1.601h-1.3zM530.736 859.246h1.3v1.601h-1.3zM537.14 859.246h1.3v1.601h-1.3zM543.544 859.246h1.3v1.601h-1.3zM549.948 859.246h1.3v1.601h-1.3zM557.953 859.246h1.3v1.601h-1.3zM564.357 859.246h1.3v1.601h-1.3z"/>
<path d="M242 873V883M404.2 873V883M566.4 873V883M728.6 873V883M890.8 873V883M137 102H147M137 279.25H147M137 456.5H147M137 633.75H147M137 811H147" stroke="#000" stroke-width="2" fill="none"/>
<rect x="148" y="72" width="800" height="800" fill="none" stroke="#000" stroke-width="2"/>
<text transform="translate(547.8 58) scale(1 1.03)" text-anchor="middle" class="b">SEA-POL 20250110 1637-1639 UTC Composite Reflectivity</text>
<text transform="translate(241.8 914.6) scale(1 1.03)" text-anchor="middle">122.0</text>
<text transform="translate(404 914.6) scale(1 1.03)" text-anchor="middle">122.5</text>
<text transform="translate(566.2 914.6) scale(1 1.03)" text-anchor="middle">123.0</text>
<text transform="translate(728.4 914.6) scale(1 1.03)" text-anchor="middle">123.5</text>
<text transform="translate(890.6 914.6) scale(1 1.03)" text-anchor="middle">124.0</text>
<text transform="translate(127.8 112) scale(1 1.03)" text-anchor="end">25.5</text>
<text transform="translate(127.8 289.25) scale(1 1.03)" text-anchor="end">25.0</text>
<text transform="translate(127.8 466.5) scale(1 1.03)" text-anchor="end">24.5</text>
<text transform="translate(127.8 643.75) scale(1 1.03)" text-anchor="end">24.0</text>
<text transform="translate(127.8 821) scale(1 1.03)" text-anchor="end">23.5</text>
<text transform="translate(548 953)" text-anchor="middle">Longitude</text>
<text transform="translate(58 472) rotate(-90)" text-anchor="middle">Latitude</text>
<rect x="984" y="856.45" width="24" height="15.55" fill="#000000"/>
<rect x="984" y="841.91" width="24" height="15.55" fill="#0c0a10"/>
<rect x="984" y="827.36" width="24" height="15.55" fill="#17131e"/>
<rect x="984" y="812.82" width="24" height="15.55" fill="#221c2e"/>
<rect x="984" y="798.27" width="24" height="15.55" fill="#2a2239"/>
<rect x="984" y="783.73" width="24" height="15.55" fill="#312847"/>
<rect x="984" y="769.18" width="24" height="15.55" fill="#372f52"/>
<rect x="984" y="754.64" width="24" height="15.55" fill="#3f3561"/>
<rect x="984" y="740.09" width="24" height="15.55" fill="#483d72"/>
<rect x="984" y="725.55" width="24" height="15.55" fill="#524584"/>
<rect x="984" y="711.00" width="24" height="15.55" fill="#5b4b93"/>
<rect x="984" y="696.45" width="24" height="15.55" fill="#6453a3"/>
<rect x="984" y="681.91" width="24" height="15.55" fill="#6560b0"/>
<rect x="984" y="667.36" width="24" height="15.55" fill="#5a6dba"/>
<rect x="984" y="652.82" width="24" height="15.55" fill="#4a7ec2"/>
<rect x="984" y="638.27" width="24" height="15.55" fill="#3f8dbb"/>
<rect x="984" y="623.73" width="24" height="15.55" fill="#4597b1"/>
<rect x="984" y="609.18" width="24" height="15.55" fill="#4fa4a5"/>
<rect x="984" y="594.64" width="24" height="15.55" fill="#5eb09f"/>
<rect x="984" y="580.09" width="24" height="15.55" fill="#72bb9b"/>
<rect x="984" y="565.55" width="24" height="15.55" fill="#86c49a"/>
<rect x="984" y="551.00" width="24" height="15.55" fill="#9bcd97"/>
<rect x="984" y="536.45" width="24" height="15.55" fill="#aed591"/>
<rect x="984" y="521.91" width="24" height="15.55" fill="#c3dd8e"/>
<rect x="984" y="507.36" width="24" height="15.55" fill="#d8e690"/>
<rect x="984" y="492.82" width="24" height="15.55" fill="#e6ef9f"/>
<rect x="984" y="478.27" width="24" height="15.55" fill="#f8f8b2"/>
<rect x="984" y="463.73" width="24" height="15.55" fill="#fcfab5"/>
<rect x="984" y="449.18" width="24" height="15.55" fill="#f6eba3"/>
<rect x="984" y="434.64" width="24" height="15.55" fill="#f3dc91"/>
<rect x="984" y="420.09" width="24" height="15.55" fill="#f1cd82"/>
<rect x="984" y="405.55" width="24" height="15.55" fill="#f0bf74"/>
<rect x="984" y="391.00" width="24" height="15.55" fill="#efae66"/>
<rect x="984" y="376.45" width="24" height="15.55" fill="#ee9e58"/>
<rect x="984" y="361.91" width="24" height="15.55" fill="#ef8a4a"/>
<rect x="984" y="347.36" width="24" height="15.55" fill="#ec7844"/>
<rect x="984" y="332.82" width="24" height="15.55" fill="#e8653c"/>
<rect x="984" y="318.27" width="24" height="15.55" fill="#e05540"/>
<rect x="984" y="303.73" width="24" height="15.55" fill="#d44248"/>
<rect x="984" y="289.18" width="24" height="15.55" fill="#c63346"/>
<rect x="984" y="274.64" width="24" height="15.55" fill="#bb2247"/>
<rect x="984" y="260.09" width="24" height="15.55" fill="#ac1045"/>
<rect x="984" y="245.55" width="24" height="15.55" fill="#99004c"/>
<rect x="984" y="231.00" width="24" height="15.55" fill="#ad1a66"/>
<rect x="984" y="216.45" width="24" height="15.55" fill="#c72c7e"/>
<rect x="984" y="201.91" width="24" height="15.55" fill="#d84593"/>
<rect x="984" y="187.36" width="24" height="15.55" fill="#e068a8"/>
<rect x="984" y="172.82" width="24" height="15.55" fill="#e383b6"/>
<rect x="984" y="158.27" width="24" height="15.55" fill="#df9ccf"/>
<rect x="984" y="143.73" width="24" height="15.55" fill="#ab80c0"/>
<rect x="984" y="129.18" width="24" height="15.55" fill="#9d6ab0"/>
<rect x="984" y="114.64" width="24" height="15.55" fill="#8c4f9e"/>
<rect x="984" y="100.09" width="24" height="15.55" fill="#6a2378"/>
<rect x="984" y="85.55" width="24" height="15.55" fill="#55105f"/>
<rect x="984" y="71.00" width="24" height="15.55" fill="#3f004f"/>
<rect x="984" y="72" width="24" height="800" fill="none" stroke="#000" stroke-width="2"/>
<path d="M1009 872.00H1019M1009 799.27H1019M1009 726.55H1019M1009 653.82H1019M1009 581.09H1019M1009 508.36H1019M1009 435.64H1019M1009 362.91H1019M1009 290.18H1019M1009 217.45H1019M1009 144.73H1019M1009 72.00H1019" stroke="#000" stroke-width="2" fill="none"/>
<text transform="translate(1025.8 882.2) scale(1 1.03)">−10</text>
<text transform="translate(1025.8 809.47) scale(1 1.03)">−5</text>
<text transform="translate(1025.8 736.75) scale(1 1.03)">0</text>
<text transform="translate(1025.8 664.02) scale(1 1.03)">5</text>
<text transform="translate(1025.8 591.29) scale(1 1.03)">10</text>
<text transform="translate(1025.8 518.56) scale(1 1.03)">15</text>
<text transform="translate(1025.8 445.84) scale(1 1.03)">20</text>
<text transform="translate(1025.8 373.11) scale(1 1.03)">25</text>
<text transform="translate(1025.8 300.38) scale(1 1.03)">30</text>
<text transform="translate(1025.8 227.65) scale(1 1.03)">35</text>
<text transform="translate(1025.8 154.93) scale(1 1.03)">40</text>
<text transform="translate(1025.8 82.2) scale(1 1.03)">45</text>
<text transform="translate(1110 472) rotate(-90) scale(1 1.03)" text-anchor="middle">dBZ</text>
</svg></body></html>
